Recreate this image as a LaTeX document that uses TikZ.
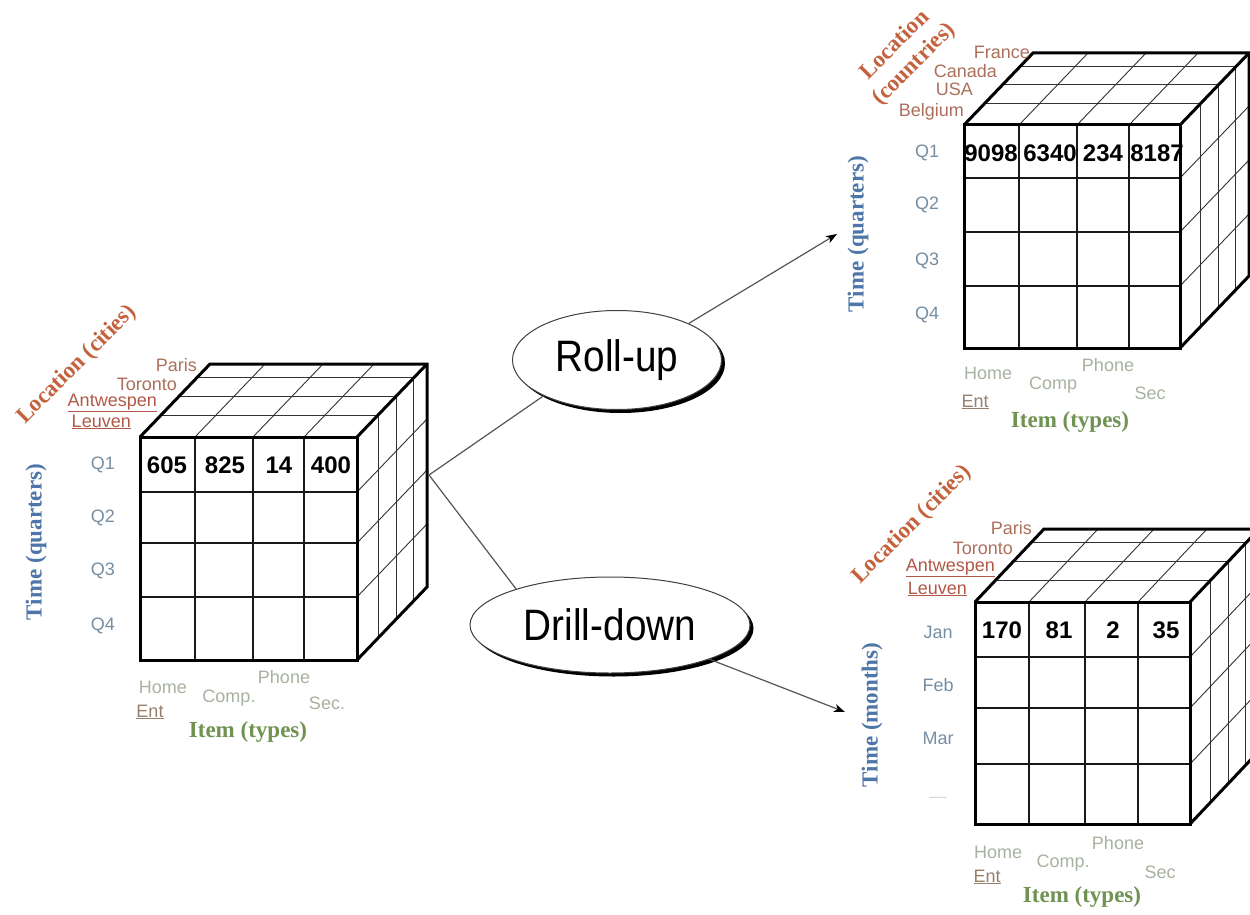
\documentclass[tikz,border=0pt]{standalone}
\usepackage{fontspec}
\usepackage{graphicx}
\setmainfont{Liberation Sans}
\newfontfamily\titlefont{Liberation Serif}
\usetikzlibrary{shapes.geometric,shadows,arrows.meta}
\definecolor{loccol}{RGB}{196,98,62}
\definecolor{timecol}{RGB}{78,118,168}
\definecolor{itemttl}{RGB}{112,146,82}
\definecolor{citycol}{RGB}{172,112,92}
\definecolor{cityul}{RGB}{178,88,72}
\definecolor{qcol}{RGB}{118,142,162}
\definecolor{itemcol}{RGB}{168,178,160}
\definecolor{entcol}{RGB}{150,128,108}
\definecolor{conncol}{RGB}{85,85,85}
\tikzset{
  thinln/.style={line width=0.9pt, black!80},
  frontln/.style={line width=1.4pt, black!90},
  thickln/.style={line width=3pt, line join=miter, black},
  val/.style={font=\bfseries\fontsize{24}{26}\selectfont, inner sep=0},
  city/.style={font=\fontsize{18}{20}\selectfont, text=citycol, anchor=east, inner sep=0},
  cityu/.style={city, text=cityul},
  qlab/.style={font=\fontsize{18}{20}\selectfont, text=qcol, inner sep=0},
  itemlab/.style={font=\fontsize{18}{20}\selectfont, text=itemcol, inner sep=0},
  entlab/.style={font=\fontsize{18}{20}\selectfont, text=entcol, inner sep=0},
  ttl/.style={font=\titlefont\bfseries\fontsize{23}{27}\selectfont, inner sep=0, align=center},
  oper/.style={ellipse, draw=black!75, line width=1pt, fill=white, inner sep=0,
    drop shadow={shadow xshift=3.5pt, shadow yshift=-3.5pt, fill=black, opacity=1},
    font=\fontsize{44}{46}\selectfont},
  conn/.style={draw=conncol, line width=1.2pt},
  arr/.style={conn, -{Stealth[length=11pt,width=8pt,inset=3pt,color=black]}}
}
% xl xr yt yb innercols innerrows dx dy
\newcommand\olapcube[8]{%
  \foreach \f in {0.3,0.56,0.81} {
    \draw[thinln] (#1+\f*#7, #3+\f*#8) -- (#2+\f*#7, #3+\f*#8);
    \draw[thinln] (#2+\f*#7, #3+\f*#8) -- (#2+\f*#7, #4+\f*#8);
  }
  \foreach \c in {#5} \draw[thinln] (\c,#3) -- (\c+#7,#3+#8);
  \foreach \r in {#6} \draw[thinln] (#2,\r) -- (#2+#7,\r+#8);
  \foreach \c in {#5} \draw[frontln] (\c,#3) -- (\c,#4);
  \foreach \r in {#6} \draw[frontln] (#1,\r) -- (#2,\r);
  \draw[thickln] (#1,#3) rectangle (#2,#4);
  \draw[thickln] (#1,#3) -- (#1+#7,#3+#8) -- (#2+#7,#3+#8) -- (#2+#7,#4+#8) -- (#2,#4);
  \draw[thickln] (#2,#3) -- (#2+#7,#3+#8);
}
\begin{document}
\begin{tikzpicture}[x=1pt,y=-1pt]
\path[fill=white] (0,0) rectangle (1250,915);
\useasboundingbox (0,0) rectangle (1250,915);

% ---------------- left cube ----------------
\node[val] (l1) at (167,465) {605};
\node[val] (l2) at (225,465) {825};
\node[val] (l3) at (279,465) {14};
\node[val] (l4) at (331,465) {400};
\olapcube{140}{357}{437}{660}{195,253,304}{492,543,597}{70}{-73}
\node[city] (lparis) at (197,365) {Paris};
\node[city] (ltor) at (177,384) {Toronto};
\node[cityu] (lant) at (157,403) {\underline{Antwespen}};
\node[cityu] (lleu) at (131,422) {\underline{Leuven}};
\node[ttl, text=loccol, rotate=45] (lloc) at (77,365) {Location (cities)};
\node[qlab] (lq1) at (103,465) {Q1};
\node[qlab] (lq2) at (103,518) {Q2};
\node[qlab] (lq3) at (103,571) {Q3};
\node[qlab] (lq4) at (103,626) {Q4};
\node[ttl, text=timecol, rotate=90] (ltime) at (36,542) {Time (quarters)};
\node[itemlab] (lhome) at (163,687) {Home};
\node[entlab] (lent) at (150,712) {\underline{Ent}};
\node[itemlab] (lcomp) at (229,698) {Comp.};
\node[itemlab] (lphone) at (284,677) {Phone};
\node[itemlab] (lsec) at (327,703) {Sec.};
\node[ttl, text=itemttl] (litem) at (248,732) {Item (types)};
\coordinate (lout) at (429,475);

% ---------------- roll-up cube ----------------
\node[val] (r1) at (991,153) {9098};
\node[val] (r2) at (1050,153) {6340};
\node[val] (r3) at (1103,153) {234};
\node[val] (r4) at (1157,153) {8187};
\olapcube{964}{1180}{125}{348}{1019,1077,1129}{178,232,286}{69}{-72}
\node[city] (rfr) at (1030,52) {France};
\node[city] (rca) at (997,71) {Canada};
\node[city] (rus) at (973,89) {USA};
\node[city] (rbe) at (964,112) {Belgium};
\node[ttl, text=loccol, rotate=45] (rloc) at (905,55) {Location\\(countries)};
\node[qlab] (rq1) at (927,153) {Q1};
\node[qlab] (rq2) at (927,205) {Q2};
\node[qlab] (rq3) at (927,261) {Q3};
\node[qlab] (rq4) at (927,315) {Q4};
\node[ttl, text=timecol, rotate=90] (rtime) at (858,234) {Time (quarters)};
\node[itemlab] (rhome) at (988,373) {Home};
\node[entlab] (rent) at (975,402) {\underline{Ent}};
\node[itemlab] (rcomp) at (1053,385) {Comp};
\node[itemlab] (rphone) at (1108,365) {Phone};
\node[itemlab] (rsec) at (1150,393) {Sec};
\node[ttl, text=itemttl] (ritem) at (1070,422) {Item (types)};
\coordinate (rtip) at (837,234);

% ---------------- drill-down cube ----------------
\node[val] (d1) at (1002,630) {170};
\node[val] (d2) at (1059,630) {81};
\node[val] (d3) at (1113,630) {2};
\node[val] (d4) at (1166,630) {35};
\olapcube{975}{1190}{602}{824}{1029,1085,1138}{657,708,764}{69}{-73}
\node[city] (dparis) at (1032,528) {Paris};
\node[city] (dtor) at (1013,548) {Toronto};
\node[cityu] (dant) at (995,568) {\underline{Antwespen}};
\node[cityu] (dleu) at (967,589) {\underline{Leuven}};
\node[ttl, text=loccol, rotate=45] (dloc) at (912,525) {Location (cities)};
\node[qlab] (djan) at (938,632) {Jan};
\node[qlab] (dfeb) at (938,685) {Feb};
\node[qlab] (dmar) at (938,738) {Mar};
\node[qlab, text=black!15] (ddash) at (938,800) {—};
\node[ttl, text=timecol, rotate=90] (dtime) at (872,715) {Time (months)};
\node[itemlab] (dhome) at (998,852) {Home};
\node[entlab] (dent) at (987,877) {\underline{Ent}};
\node[itemlab] (dcomp) at (1063,863) {Comp.};
\node[itemlab] (dphone) at (1118,843) {Phone};
\node[itemlab] (dsec) at (1160,872) {Sec};
\node[ttl, text=itemttl] (ditem) at (1082,897) {Item (types)};
\coordinate (dtip) at (845,712);

% ---------------- operations ----------------
\node[oper, minimum width=209pt, minimum height=99pt] (rollup) at (617,360)
  {\scalebox{0.88}[1]{Roll-up}};
\node[oper, minimum width=280pt, minimum height=96pt] (drill) at (610,625)
  {\scalebox{0.88}[1]{Drill-down}};

\draw[conn] (lout) -- (rollup.206);
\draw[arr] (rollup.27) -- (rtip);
\draw[conn] (lout) -- (drill.159);
\draw[arr] (drill.341) -- (dtip);
\end{tikzpicture}
\end{document}
